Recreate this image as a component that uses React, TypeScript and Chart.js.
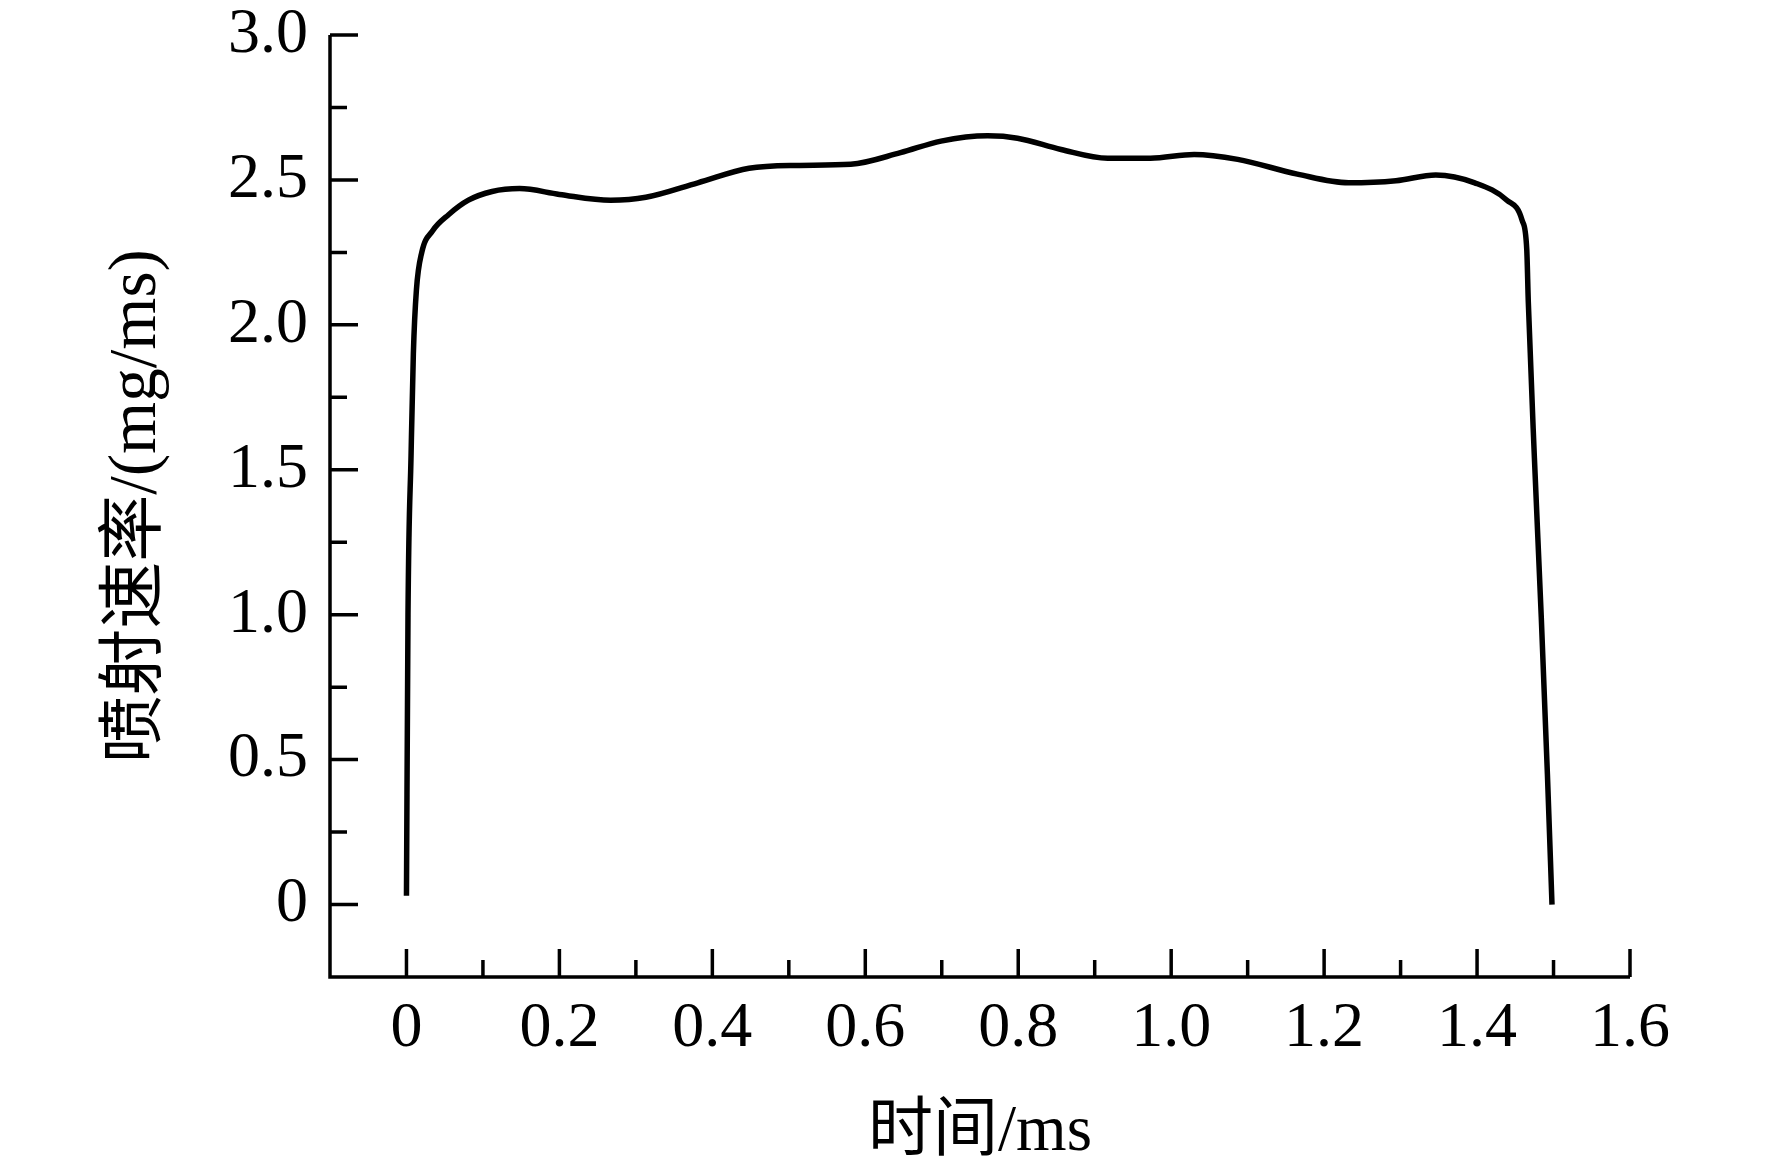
import React, { useEffect, useRef } from "react";
import { Chart, registerables } from "chart.js";

Chart.register(...registerables);

// Data
const timeMs: number[] = [
  0.0, 0.002, 0.006, 0.009, 0.013, 0.02, 0.034, 0.055, 0.081, 0.112, 0.148,
  0.2, 0.267, 0.313, 0.381, 0.448, 0.51, 0.581, 0.646, 0.699, 0.76, 0.799,
  0.856, 0.917, 0.973, 1.03, 1.087, 1.165, 1.232, 1.294, 1.346, 1.397, 1.439,
  1.459, 1.465, 1.467, 1.475, 1.484, 1.492, 1.498,
];
const injectionRate: number[] = [
  0.03, 1.0, 1.55, 1.9, 2.12, 2.25, 2.324, 2.38, 2.43, 2.46, 2.47,
  2.45, 2.43, 2.44, 2.49, 2.54, 2.55, 2.554, 2.594, 2.634, 2.652, 2.644,
  2.605, 2.575, 2.575, 2.588, 2.571, 2.52, 2.49, 2.497, 2.517, 2.49, 2.43,
  2.36, 2.26, 2.08, 1.54, 0.99, 0.45, 0.0,
];

const xMajorTicks: number[] = [0, 0.2, 0.4, 0.6, 0.8, 1.0, 1.2, 1.4, 1.6];
const xMinorTicks: number[] = [0.1, 0.3, 0.5, 0.7, 0.9, 1.1, 1.3, 1.5];
const yMajorTicks: number[] = [0, 0.5, 1.0, 1.5, 2.0, 2.5, 3.0];
const yMinorTicks: number[] = [0.25, 0.75, 1.25, 1.75, 2.25, 2.75];

const xTitle = "时间/ms";
const yTitle = "喷射速率/(mg/ms)";

const FONT = "'Liberation Serif', 'Times New Roman', 'Noto Sans CJK SC', serif";

const axesPlugin = {
  id: "inwardAxes",
  afterDraw(chart: any) {
    const { ctx, chartArea, scales } = chart;
    const xs = scales.x;
    const ys = scales.y;
    ctx.save();
    ctx.strokeStyle = "#000";
    ctx.lineWidth = 3.5;
    ctx.lineCap = "butt";
    ctx.lineJoin = "miter";
    // axis lines
    ctx.beginPath();
    ctx.moveTo(chartArea.left, chartArea.top);
    ctx.lineTo(chartArea.left, chartArea.bottom);
    ctx.lineTo(chartArea.right, chartArea.bottom);
    ctx.stroke();
    const major = 28;
    const minor = 17;
    ctx.beginPath();
    yMajorTicks.forEach((v) => {
      const p = ys.getPixelForValue(v);
      ctx.moveTo(chartArea.left, p);
      ctx.lineTo(chartArea.left + major, p);
    });
    yMinorTicks.forEach((v) => {
      const p = ys.getPixelForValue(v);
      ctx.moveTo(chartArea.left, p);
      ctx.lineTo(chartArea.left + minor, p);
    });
    xMajorTicks.forEach((v) => {
      const p = xs.getPixelForValue(v);
      ctx.moveTo(p, chartArea.bottom);
      ctx.lineTo(p, chartArea.bottom - major);
    });
    xMinorTicks.forEach((v) => {
      const p = xs.getPixelForValue(v);
      ctx.moveTo(p, chartArea.bottom);
      ctx.lineTo(p, chartArea.bottom - minor);
    });
    ctx.stroke();
    ctx.restore();
  },
};

const fmt = (v: number) => (v === 0 ? "0" : v.toFixed(1));

export default function App() {
  const canvasRef = useRef<HTMLCanvasElement | null>(null);

  useEffect(() => {
    const canvas = canvasRef.current;
    if (!canvas) return;
    const points = timeMs.map((t, i) => ({ x: t, y: injectionRate[i] }));
    const chart = new Chart(canvas, {
      type: "line",
      data: {
        datasets: [
          {
            data: points,
            borderColor: "#000",
            borderWidth: 5.5,
            pointRadius: 0,
            cubicInterpolationMode: "monotone",
            fill: false,
          },
        ],
      },
      options: {
        animation: false,
        responsive: false,
        devicePixelRatio: 1,
        layout: { padding: { left: 0, top: 35, right: 142, bottom: 0 } },
        plugins: { legend: { display: false }, tooltip: { enabled: false } },
        scales: {
          x: {
            type: "linear",
            min: -0.1,
            max: 1.6,
            grid: { display: false, drawTicks: false },
            border: { display: false },
            afterBuildTicks: (s: any) => {
              s.ticks = xMajorTicks.map((v) => ({ value: v }));
            },
            afterFit: (s: any) => {
              s.height = 198;
              s.paddingLeft = 0;
              s.paddingRight = 0;
            },
            ticks: {
              color: "#000",
              padding: 20,
              maxRotation: 0,
              autoSkip: false,
              font: { family: FONT, size: 64, lineHeight: 1 },
              callback: (v: any) => fmt(Number(v)),
            },
            title: {
              display: true,
              text: xTitle,
              color: "#000",
              padding: { top: 0, bottom: 3 },
              font: { family: FONT, size: 65 },
            },
          },
          y: {
            type: "linear",
            min: -0.25,
            max: 3.0,
            grid: { display: false, drawTicks: false },
            border: { display: false },
            afterBuildTicks: (s: any) => {
              s.ticks = yMajorTicks.map((v) => ({ value: v }));
            },
            afterFit: (s: any) => {
              s.width = 330;
              s.paddingTop = 0;
              s.paddingBottom = 0;
            },
            ticks: {
              color: "#000",
              padding: 22,
              autoSkip: false,
              font: { family: FONT, size: 64, lineHeight: 1 },
              callback: (v: any) => fmt(Number(v)),
            },
            title: {
              display: true,
              text: yTitle,
              color: "#000",
              padding: { top: 97, bottom: 0 },
              font: { family: FONT, size: 67 },
            },
          },
        },
      },
      plugins: [axesPlugin],
    });
    return () => chart.destroy();
  }, []);

  return (
    <div style={{ position: "absolute", left: 0, top: 0, width: 1772, height: 1175, background: "#fff" }}>
      <canvas ref={canvasRef} width={1772} height={1175} style={{ width: 1772, height: 1175, display: "block" }} />
    </div>
  );
}
